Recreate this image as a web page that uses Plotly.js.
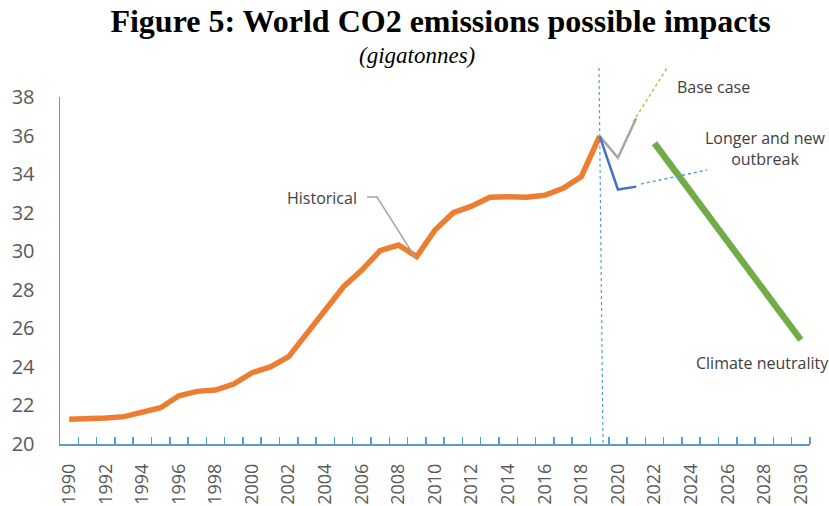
<!DOCTYPE html>
<html>
<head>
<meta charset="utf-8">
<script src="https://cdn.plot.ly/plotly-3.0.1.min.js"></script>
<style>html,body{margin:0;padding:0;background:#fff;}#chart{width:829px;height:506px;}</style>
</head>
<body>
<div id="chart"></div>
<script>
// ---- Data (gigatonnes) ----
const histYears = [1990,1991,1992,1993,1994,1995,1996,1997,1998,1999,2000,2001,2002,2003,2004,2005,2006,2007,2008,2009,2010,2011,2012,2013,2014,2015,2016,2017,2018,2019];
const histValues = [21.28,21.28,21.35,21.42,21.63,21.88,22.5,22.73,22.8,23.11,23.7,24.0,24.53,25.74,27.04,28.16,29.02,30.03,30.32,29.72,31.1,32.0,32.34,32.8,32.83,32.8,32.9,33.26,33.87,35.97];
const baseYears = [2019,2020,2021];
const baseValues = [35.97,34.85,36.9];
const longerYears = [2019,2020,2021];
const longerValues = [35.97,33.2,33.35];
const climateYears = [2022,2030];
const climateValues = [35.6,25.4];
const labelYears = [1990,1992,1994,1996,1998,2000,2002,2004,2006,2008,2010,2012,2014,2016,2018,2020,2022,2024,2026,2028,2030];
const boundaryYears = [];
for (let y = 1990; y <= 2030; y++) boundaryYears.push(y + 0.5);

const axisBlue = '#5B9BD5';
const textGray = '#404040';
const tickGray = '#595959';

const traces = [
  {x: histYears, y: histValues, type: 'scatter', mode: 'lines', line: {color: '#ED7D31', width: 5.5}, hoverinfo: 'skip'},
  {x: baseYears, y: baseValues, type: 'scatter', mode: 'lines', line: {color: '#A5A5A5', width: 2.5}, hoverinfo: 'skip'},
  {x: longerYears, y: longerValues, type: 'scatter', mode: 'lines', line: {color: '#4472C4', width: 2.5}, hoverinfo: 'skip'},
  {x: climateYears, y: climateValues, type: 'scatter', mode: 'lines', line: {color: '#70AD47', width: 6.5}, hoverinfo: 'skip'}
];

const layout = {
  width: 829, height: 506,
  margin: {l: 60, r: 19, t: 97, b: 62},
  paper_bgcolor: '#fff', plot_bgcolor: '#fff',
  showlegend: false,
  title: {
    text: '<b>Figure 5: World CO2 emissions possible impacts</b>',
    font: {family: 'Liberation Serif, Times New Roman, serif', size: 32, color: '#000'},
    x: 440.5/829, xref: 'container', xanchor: 'center',
    y: 1 - 21/506, yref: 'container', yanchor: 'middle'
  },
  xaxis: {
    type: 'linear', range: [1989.5, 2030.5],
    tickmode: 'array', tickvals: labelYears, ticktext: labelYears.map(String),
    tickangle: -90, ticks: '', showgrid: false, zeroline: false,
    showline: true, linecolor: axisBlue, linewidth: 1.5,
    tickfont: {family: 'Open Sans, sans-serif', size: 18, color: tickGray},
    ticklabelstandoff: 11,
    minor: {tickmode: 'array', tickvals: boundaryYears, ticks: 'inside', ticklen: 7, tickwidth: 1.5, tickcolor: axisBlue, showgrid: false}
  },
  yaxis: {
    range: [20, 38], dtick: 2, tick0: 20, ticks: '', showgrid: false, zeroline: false,
    showline: true, linecolor: axisBlue, linewidth: 1.5,
    tickfont: {family: 'Open Sans, sans-serif', size: 20, color: tickGray},
    ticklabelstandoff: 20
  },
  shapes: [
    {type: 'line', xref: 'paper', yref: 'paper', x0: (599-60)/750, y0: (444-68)/347, x1: (603-60)/750, y1: 0,
     line: {color: axisBlue, width: 1.2, dash: 'dot'}},
    {type: 'path', xref: 'paper', yref: 'paper',
     path: 'M ' + ((367-60)/750) + ' ' + ((444-197)/347) + ' L ' + ((377-60)/750) + ' ' + ((444-197)/347) + ' L ' + ((415-60)/750) + ' ' + ((444-257)/347),
     line: {color: '#A5A5A5', width: 1.5}},
    {type: 'line', xref: 'paper', yref: 'paper', x0: (633-60)/750, y0: (444-122)/347, x1: (667-60)/750, y1: (444-68)/347,
     line: {color: '#92D050', width: 1.5, dash: 'dot'}},
    {type: 'line', xref: 'paper', yref: 'paper', x0: (641-60)/750, y0: (444-184)/347, x1: (707-60)/750, y1: (444-170)/347,
     line: {color: axisBlue, width: 1.5, dash: 'dot'}}
  ],
  annotations: [
    {text: '<i>(gigatonnes)</i>', xref: 'paper', yref: 'paper', x: (417-60)/750, y: (444-56)/347,
     xanchor: 'center', yanchor: 'middle', showarrow: false,
     font: {family: 'Liberation Serif, Times New Roman, serif', size: 23, color: '#000'}},
    {text: 'Historical', xref: 'paper', yref: 'paper', x: (322-60)/750, y: (444-198)/347,
     xanchor: 'center', yanchor: 'middle', showarrow: false,
     font: {family: 'Open Sans, sans-serif', size: 16, color: textGray}},
    {text: 'Base case', xref: 'paper', yref: 'paper', x: (713-60)/750, y: (444-87)/347,
     xanchor: 'center', yanchor: 'middle', showarrow: false,
     font: {family: 'Open Sans, sans-serif', size: 16, color: textGray}},
    {text: 'Longer and new<br>outbreak', xref: 'paper', yref: 'paper', x: (765-60)/750, y: (444-148)/347,
     xanchor: 'center', yanchor: 'middle', align: 'center', showarrow: false,
     font: {family: 'Open Sans, sans-serif', size: 16, color: textGray}},
    {text: 'Climate neutrality', xref: 'paper', yref: 'paper', x: (762-60)/750, y: (444-363)/347,
     xanchor: 'center', yanchor: 'middle', showarrow: false,
     font: {family: 'Open Sans, sans-serif', size: 16, color: textGray}}
  ]
};

Plotly.newPlot('chart', traces, layout, {displayModeBar: false, staticPlot: true});
</script>
</body>
</html>
